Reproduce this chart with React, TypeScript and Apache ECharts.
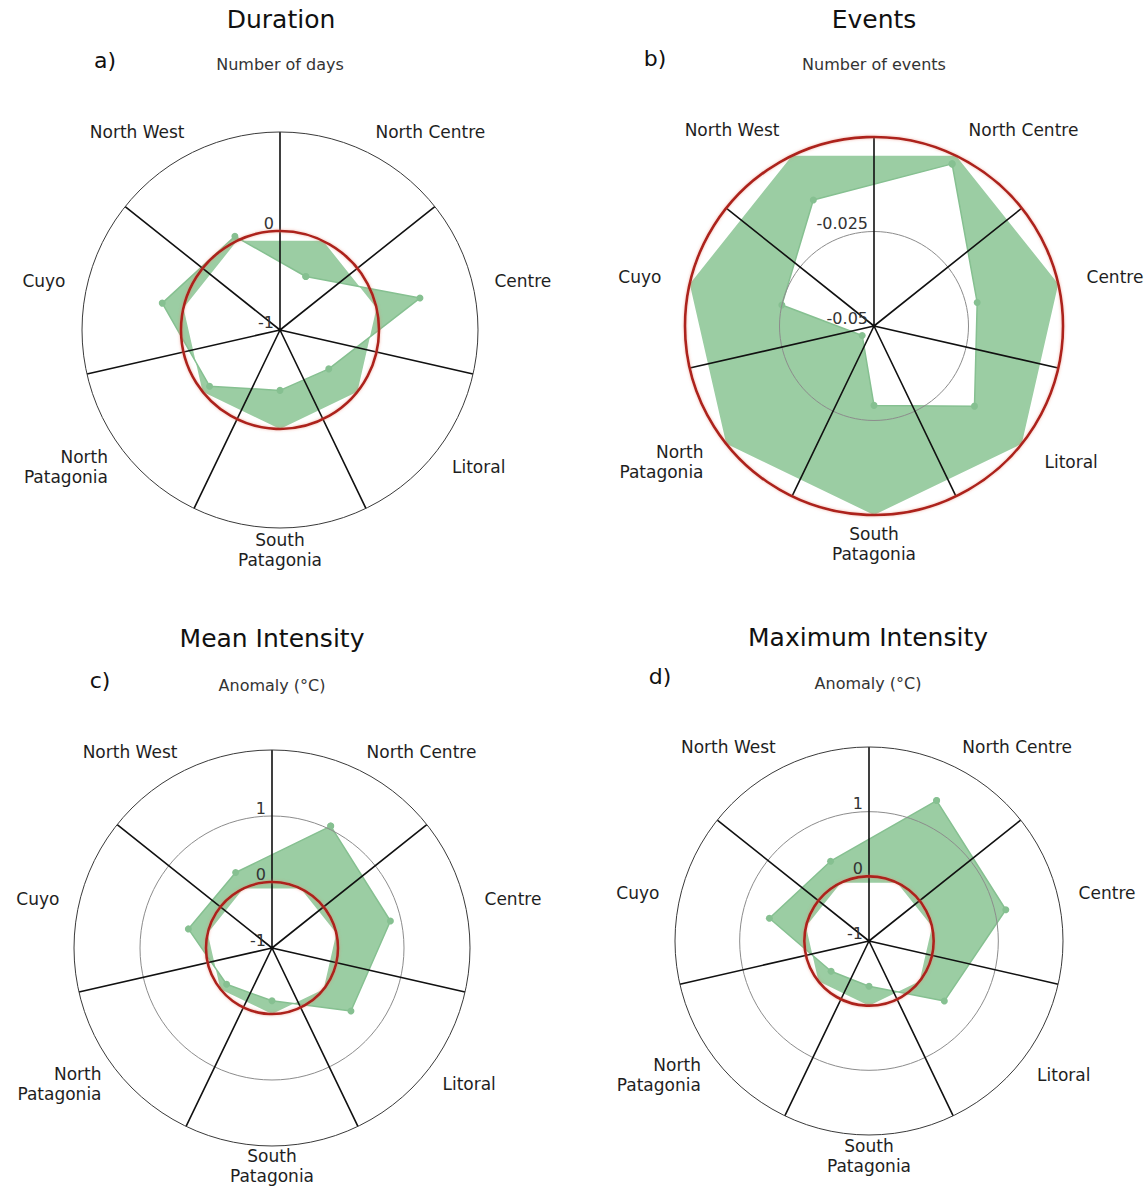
import React, { useEffect, useRef } from 'react';
import * as echarts from 'echarts';

// ---- data ----
const categories = ['North Centre', 'Centre', 'Litoral', 'South\nPatagonia', 'North\nPatagonia', 'Cuyo', 'North West'];
const durationValues = [-0.4, 0.45, -0.37, -0.39, -0.09, 0.22, 0.05];
const eventsValues = [-0.0024, -0.022, -0.016, -0.029, -0.046, -0.025, -0.013];
const meanIntensityValues = [1.05, 0.84, 0.53, -0.2, -0.12, 0.3, 0.27];
const maxIntensityValues = [1.41, 1.17, 0.49, -0.3, -0.25, 0.58, 0.37];

const durationScale = [-1, 1, 1]; // min, max, interval
const eventsScale = [-0.05, 0, 0.025];
const meanScale = [-1, 2, 1];
const maxScale = [-1, 2, 1];

const titles = ['Duration', 'Events', 'Mean Intensity', 'Maximum Intensity'];
const letters = ['a)', 'b)', 'c)', 'd)'];
const subtitles = ['Number of days', 'Number of events', 'Anomaly (°C)', 'Anomaly (°C)'];

// ---- styling / layout ----
const FONT = "'DejaVu Sans', 'Open Sans', sans-serif";
const RED = '#ad221b';
const FILL = '#9bcda3';
const EDGE = '#86c091';
const CLEAR = 'rgba(0,0,0,0)';

const layouts = [
  { center: [280, 330], radius: 198, margin: 22, titleXY: [281, 19], letterXY: [105, 60], subXY: [280, 64] },
  { center: [874, 326], radius: 189, margin: 29, titleXY: [874, 19], letterXY: [655, 58], subXY: [874, 64] },
  { center: [272, 948], radius: 198, margin: 20, titleXY: [272, 638], letterXY: [100, 680], subXY: [272, 685] },
  { center: [869, 941], radius: 194, margin: 21, titleXY: [868, 637], letterXY: [660, 676], subXY: [868, 683] },
];

// vertical correction so each category label is centred on its anchor
const labelPads = [
  [0, 0, -10, 0],
  [0, 0, 0, 0],
  [-10, 0, 0, 0],
  [-20, 0, 0, 0],
  [-20, 0, 0, 0],
  [0, 0, 0, 0],
  [0, 0, -10, 0],
];

const seriesValues = [durationValues, eventsValues, meanIntensityValues, maxIntensityValues];
const scales = [durationScale, eventsScale, meanScale, maxScale];

function buildOption() {
  const polar: any[] = [];
  const angleAxis: any[] = [];
  const radiusAxis: any[] = [];
  const series: any[] = [];
  const graphic: any[] = [];

  const catData = categories.map((c, i) => ({ value: c, textStyle: { padding: labelPads[i] } }));

  layouts.forEach((L, k) => {
    const [min, max, interval] = scales[k];
    const ticks: number[] = [];
    const n = Math.round((max - min) / interval);
    for (let i = 0; i <= n; i++) ticks.push(min + i * interval);
    const redColors = ticks.map((t) => (Math.abs(t) < 1e-9 ? RED : CLEAR));
    const grayColors = ticks.map((t, i) => (i === 0 || i === ticks.length - 1 ? CLEAR : '#8c8c8c'));

    polar.push({ center: L.center, radius: L.radius });
    polar.push({ center: L.center, radius: L.radius });

    angleAxis.push({
      polarIndex: 2 * k,
      type: 'category',
      data: catData,
      startAngle: 90,
      clockwise: true,
      boundaryGap: true,
      z: 3,
      axisLine: { show: true, lineStyle: { color: '#3a3a3a', width: 1 } },
      axisTick: { show: false },
      splitLine: { show: true, lineStyle: { color: '#111', width: 1.6 } },
      axisLabel: { show: true, margin: L.margin, fontSize: 17, lineHeight: 20, color: '#1e1e1e', fontFamily: FONT },
    });
    angleAxis.push({
      polarIndex: 2 * k + 1,
      type: 'category',
      data: categories,
      startAngle: 90,
      boundaryGap: true,
      axisLine: { show: false },
      axisTick: { show: false },
      axisLabel: { show: false },
      splitLine: { show: false },
    });

    radiusAxis.push({
      polarIndex: 2 * k,
      type: 'value',
      min, max, interval,
      z: 3,
      axisLine: { show: false },
      axisTick: { show: false },
      axisLabel: {
        show: true, showMaxLabel: false, margin: 6, fontSize: 16, color: '#333',
        verticalAlign: 'bottom', fontFamily: FONT,
      },
      splitLine: { show: true, lineStyle: { color: grayColors, width: 1 } },
    });
    radiusAxis.push({
      polarIndex: 2 * k + 1,
      type: 'value',
      min, max, interval,
      z: 4,
      axisLine: { show: false },
      axisTick: { show: false },
      axisLabel: { show: false },
      splitLine: {
        show: true,
        lineStyle: { color: redColors, width: 2.6, shadowBlur: 3, shadowColor: 'rgba(230,120,100,0.55)' },
      },
    });

    const vals = seriesValues[k];
    const data = vals.map((v, i) => [v, i]);
    data.push([vals[0], 0]);
    series.push({
      type: 'line',
      coordinateSystem: 'polar',
      polarIndex: 2 * k,
      data,
      z: 2,
      symbol: 'circle',
      symbolSize: 7,
      lineStyle: { color: EDGE, width: 1.5 },
      itemStyle: { color: EDGE },
      areaStyle: { color: FILL, opacity: 1, origin: 0 },
    });

    graphic.push({
      type: 'text', x: L.titleXY[0], y: L.titleXY[1],
      style: { text: titles[k], fontSize: 25, fontFamily: FONT, fill: '#111', align: 'center', verticalAlign: 'middle', textAlign: 'center', textVerticalAlign: 'middle' },
    });
    graphic.push({
      type: 'text', x: L.letterXY[0], y: L.letterXY[1],
      style: { text: letters[k], fontSize: 22, fontFamily: FONT, fill: '#111', align: 'center', verticalAlign: 'middle', textAlign: 'center', textVerticalAlign: 'middle' },
    });
    graphic.push({
      type: 'text', x: L.subXY[0], y: L.subXY[1],
      style: { text: subtitles[k], fontSize: 16, fontFamily: FONT, fill: '#333', align: 'center', verticalAlign: 'middle', textAlign: 'center', textVerticalAlign: 'middle' },
    });
  });

  return {
    animation: false,
    backgroundColor: '#ffffff',
    polar,
    angleAxis,
    radiusAxis,
    series,
    graphic,
  };
}

export default function App() {
  const ref = useRef<HTMLDivElement>(null);
  useEffect(() => {
    const chart = echarts.init(ref.current!, null, { renderer: 'svg' });
    chart.setOption(buildOption() as any);
    return () => chart.dispose();
  }, []);
  return (
    <div
      ref={ref}
      style={{ position: 'absolute', left: 0, top: 0, width: 1148, height: 1188, background: '#fff' }}
    />
  );
}
